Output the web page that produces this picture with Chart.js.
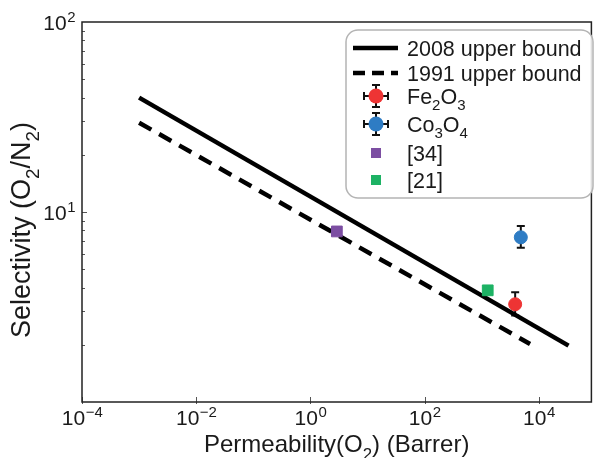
<!DOCTYPE html>
<html lang="en">
<head>
<meta charset="UTF-8">
<title>Selectivity vs permeability</title>
<script src="https://cdn.jsdelivr.net/npm/chart.js"></script>
<style>
  html, body { margin: 0; padding: 0; background: #fff; }
  #wrap { width: 600px; height: 458px; }
</style>
</head>
<body>
<div id="wrap"><canvas id="robeson"></canvas></div>
<script>
// upper bound lines, end points
const bound2008 = [{x: 1.0e-3, y: 40.0}, {x: 3.3e4, y: 1.98}];
const bound1991 = [{x: 1.0e-3, y: 29.5}, {x: 7.0e3, y: 2.02}];

// membranes (x = permeability, y = selectivity)
const fe2o3 = [{x: 3840, y: 3.27}];
const fe2o3Err = [[2.85, 3.78]];
const co3o4 = [{x: 4820, y: 7.36}];
const co3o4Err = [[6.48, 8.43]];
const ref34 = [{x: 2.9, y: 7.9}];
const ref21 = [{x: 1270, y: 3.87}];

const seriesNames = ['2008 upper bound', '1991 upper bound', 'Fe_2O_3', 'Co_3O_4', '[34]', '[21]'];
const seriesColors = ['#000000', '#000000', '#ee3434', '#2e7cc4', '#7c4ea2', '#1db264'];

const xTicks = [1e-4, 1e-2, 1, 1e2, 1e4];
const yTicks = [10, 100];
const xTitle = 'Permeability(O_2) (Barrer)';
const yTitle = 'Selectivity (O_2/N_2)';

const FONT = '"Liberation Sans", Arial, sans-serif';

function expOf(v) {
    return Math.round(Math.log10(v));
}

// "10" with a raised exponent, like matplotlib's mathtext
function drawPow(ctx, v, x, y, align) {
    const e = String(expOf(v)).replace('-', '\u2212');
    ctx.font = '21px ' + FONT;
    const w1 = ctx.measureText('10').width;
    ctx.font = '15px ' + FONT;
    const w2 = ctx.measureText(e).width;
    const left = align === 'center' ? x - (w1 + w2) / 2 : x - w1 - w2;
    ctx.textAlign = 'left';
    ctx.textBaseline = 'alphabetic';
    ctx.font = '21px ' + FONT;
    ctx.fillText('10', left, y);
    ctx.font = '15px ' + FONT;
    ctx.fillText(e, left + w1 + 0.5, y - 8);
}

// text with "_x" subscripts
function richParts(str) {
    const parts = [];
    for (let i = 0; i < str.length; i++) {
        if (str[i] === '_' && i + 1 < str.length) {
            parts.push({t: str[i + 1], sub: true});
            i++;
        } else if (parts.length && !parts[parts.length - 1].sub) {
            parts[parts.length - 1].t += str[i];
        } else {
            parts.push({t: str[i], sub: false});
        }
    }
    return parts;
}

function drawRich(ctx, str, x, y, size, align) {
    const parts = richParts(str);
    const small = size * 0.7;
    let total = 0;
    parts.forEach(p => {
        ctx.font = (p.sub ? small : size) + 'px ' + FONT;
        p.w = ctx.measureText(p.t).width;
        total += p.w;
    });
    let cx = align === 'center' ? x - total / 2 : x;
    ctx.textAlign = 'left';
    ctx.textBaseline = 'alphabetic';
    parts.forEach(p => {
        ctx.font = (p.sub ? small : size) + 'px ' + FONT;
        ctx.fillText(p.t, cx, y + (p.sub ? size * 0.32 : 0));
        cx += p.w;
    });
}

function errMarker(ctx, x, y, r, color) {
    ctx.save();
    ctx.strokeStyle = '#111';
    ctx.lineWidth = 2;
    ctx.beginPath();
    ctx.moveTo(x - 12, y); ctx.lineTo(x + 12, y);
    ctx.moveTo(x - 12, y - 4); ctx.lineTo(x - 12, y + 4);
    ctx.moveTo(x + 12, y - 4); ctx.lineTo(x + 12, y + 4);
    ctx.moveTo(x, y - 11); ctx.lineTo(x, y + 11);
    ctx.moveTo(x - 4, y - 11); ctx.lineTo(x + 4, y - 11);
    ctx.moveTo(x - 4, y + 11); ctx.lineTo(x + 4, y + 11);
    ctx.stroke();
    ctx.fillStyle = color;
    ctx.beginPath();
    ctx.arc(x, y, r, 0, Math.PI * 2);
    ctx.fill();
    ctx.restore();
}

// vertical error bars, drawn before the markers so they sit behind them
const errorBars = {
    id: 'errorBars',
    beforeDatasetsDraw(chart) {
        const ctx = chart.ctx;
        const xs = chart.scales.x, ys = chart.scales.y;
        [[fe2o3, fe2o3Err], [co3o4, co3o4Err]].forEach(([pts, errs]) => {
            pts.forEach((p, i) => {
                const px = xs.getPixelForValue(p.x);
                const lo = ys.getPixelForValue(errs[i][0]);
                const hi = ys.getPixelForValue(errs[i][1]);
                ctx.save();
                ctx.strokeStyle = '#111';
                ctx.lineWidth = 2;
                ctx.beginPath();
                ctx.moveTo(px, lo); ctx.lineTo(px, hi);
                ctx.moveTo(px - 4, lo); ctx.lineTo(px + 4, lo);
                ctx.moveTo(px - 4, hi); ctx.lineTo(px + 4, hi);
                ctx.stroke();
                ctx.restore();
            });
        });
    }
};

// frame, ticks, tick labels, axis titles and legend
const decorations = {
    id: 'decorations',
    afterDraw(chart) {
        const ctx = chart.ctx;
        const a = chart.chartArea;
        const xs = chart.scales.x, ys = chart.scales.y;
        ctx.save();

        // inward ticks
        ctx.strokeStyle = '#555';
        ctx.lineWidth = 1;
        ctx.beginPath();
        for (let d = 1; d < 100; d *= 10) {
            for (let m = 1; m <= 9; m++) {
                const v = d * m;
                if (v <= ys.min || v >= ys.max) continue;
                const py = Math.round(ys.getPixelForValue(v)) + 0.5;
                ctx.moveTo(a.left, py); ctx.lineTo(a.left + (m === 1 ? 5 : 3), py);
            }
        }
        xTicks.forEach(v => {
            const px = Math.round(xs.getPixelForValue(v)) + 0.5;
            ctx.moveTo(px, a.bottom + 2); ctx.lineTo(px, a.bottom - 5);
        });
        ctx.stroke();

        // frame
        ctx.strokeStyle = '#222';
        ctx.lineWidth = 1.5;
        ctx.strokeRect(a.left, a.top, a.right - a.left, a.bottom - a.top);

        // tick labels
        ctx.fillStyle = '#1a1a1a';
        xTicks.forEach(v => drawPow(ctx, v, xs.getPixelForValue(v), a.bottom + 23, 'center'));
        yTicks.forEach(v => drawPow(ctx, v, a.left - 7, ys.getPixelForValue(v) + 8, 'right'));

        // axis titles
        drawRich(ctx, xTitle, (a.left + a.right) / 2, 452, 24, 'center');
        ctx.save();
        ctx.translate(30, 230);
        ctx.rotate(-Math.PI / 2);
        drawRich(ctx, yTitle, 0, 0, 27, 'center');
        ctx.restore();

        // legend
        ctx.fillStyle = 'rgba(255,255,255,0.85)';
        ctx.strokeStyle = '#b4b4b4';
        ctx.lineWidth = 1.5;
        ctx.beginPath();
        ctx.roundRect(346, 30, 247, 168, 12);
        ctx.fill();
        ctx.stroke();

        const rows = [48, 73, 96, 124, 153, 180];
        const mx = 376;
        rows.forEach((ry, i) => {
            if (i < 2) {
                ctx.strokeStyle = '#000';
                ctx.lineWidth = 4.5;
                ctx.setLineDash(i === 1 ? [12, 7] : []);
                ctx.beginPath();
                ctx.moveTo(353, ry); ctx.lineTo(398, ry);
                ctx.stroke();
                ctx.setLineDash([]);
            } else if (i < 4) {
                errMarker(ctx, mx, ry, 7.5, seriesColors[i]);
            } else {
                ctx.fillStyle = seriesColors[i];
                ctx.fillRect(mx - 5, ry - 5, 10, 10);
            }
            ctx.fillStyle = '#1a1a1a';
            drawRich(ctx, seriesNames[i], 407, ry + 7.5, 21.5, 'left');
        });
        ctx.restore();
    }
};

const ctx = document.getElementById('robeson').getContext('2d');
new Chart(ctx, {
    type: 'scatter',
    data: {
        datasets: [
            {label: seriesNames[0], data: bound2008, showLine: true, borderColor: seriesColors[0],
             borderWidth: 4.5, pointRadius: 0, order: 3},
            {label: seriesNames[1], data: bound1991, showLine: true, borderColor: seriesColors[1],
             borderWidth: 4.5, borderDash: [14, 9], pointRadius: 0, order: 3},
            {label: seriesNames[2], data: fe2o3, backgroundColor: seriesColors[2], borderColor: seriesColors[2],
             pointRadius: 6.5, order: 1},
            {label: seriesNames[3], data: co3o4, backgroundColor: seriesColors[3], borderColor: seriesColors[3],
             pointRadius: 6.5, order: 1},
            {label: seriesNames[4], data: ref34, backgroundColor: seriesColors[4], borderColor: seriesColors[4],
             pointStyle: 'rect', pointRadius: 7.6, order: 1},
            {label: seriesNames[5], data: ref21, backgroundColor: seriesColors[5], borderColor: seriesColors[5],
             pointStyle: 'rect', pointRadius: 7.6, order: 1}
        ]
    },
    options: {
        responsive: true,
        maintainAspectRatio: false,
        animation: false,
        layout: {padding: {top: 22, right: 3, left: 0, bottom: 0}},
        plugins: {
            legend: {display: false},
            tooltip: {enabled: false}
        },
        scales: {
            x: {
                type: 'logarithmic',
                min: 1e-4,
                max: 8.3e4,
                afterBuildTicks: s => { s.ticks = xTicks.map(v => ({value: v})); },
                afterFit: s => { s.height = 56; },
                ticks: {display: false},
                grid: {display: false, drawTicks: false},
                border: {display: false}
            },
            y: {
                type: 'logarithmic',
                min: 1,
                max: 100,
                afterBuildTicks: s => { s.ticks = yTicks.map(v => ({value: v})); },
                afterFit: s => { s.width = 82; },
                ticks: {display: false},
                grid: {display: false, drawTicks: false},
                border: {display: false}
            }
        }
    },
    plugins: [errorBars, decorations]
});
</script>
</body>
</html>
